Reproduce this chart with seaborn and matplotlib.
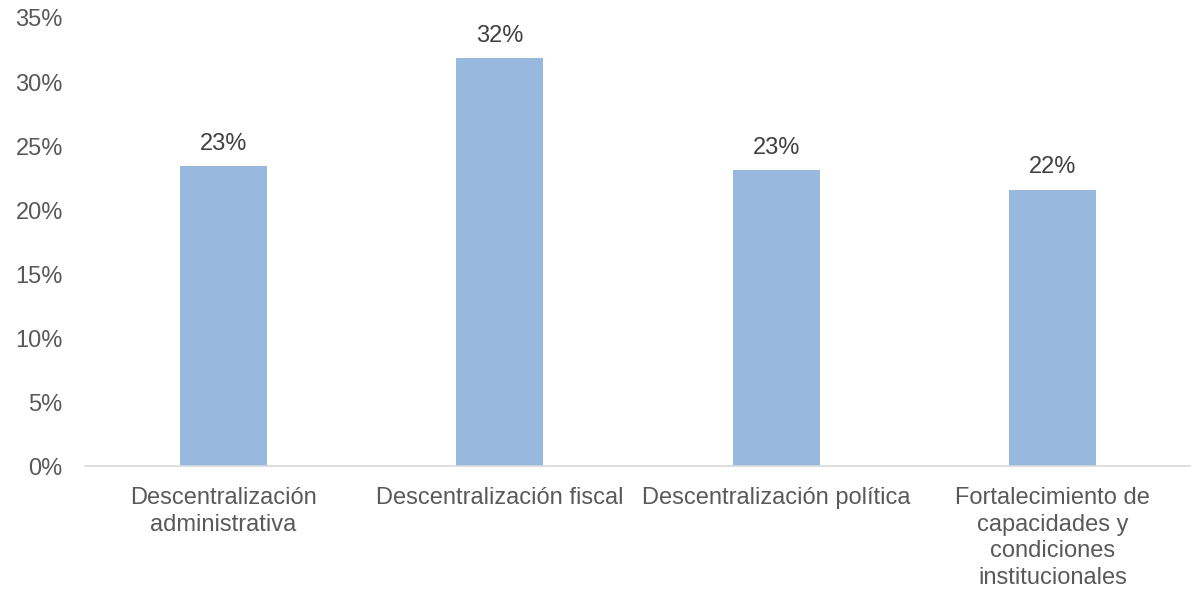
import matplotlib
matplotlib.use("Agg")
import matplotlib.pyplot as plt
import seaborn as sns
import pandas as pd
from matplotlib.ticker import FuncFormatter

categories = [
    "Descentralización\nadministrativa",
    "Descentralización fiscal",
    "Descentralización política",
    "Fortalecimiento de\ncapacidades y\ncondiciones\ninstitucionales",
]
values = [23.4, 31.85, 23.1, 21.55]
labels = ["23%", "32%", "23%", "22%"]
yticks = [0, 5, 10, 15, 20, 25, 30, 35]

sns.set_theme(style="white")
plt.rcParams["font.family"] = ["Liberation Sans", "DejaVu Sans"]

df = pd.DataFrame({"cat": categories, "val": values})

fig = plt.figure(figsize=(11.91, 5.92), dpi=100)
ax = fig.add_axes([0.0714, 0.2128, 0.9286, 0.7568])
sns.barplot(data=df, x="cat", y="val", color="#97B9DF", width=0.315,
            saturation=1, ax=ax, edgecolor="none")

ax.set_ylim(0, 35)
ax.set_xlim(-0.5, 3.5)
ax.set_yticks(yticks)
ax.yaxis.set_major_formatter(FuncFormatter(lambda v, p: f"{v:.0f}%"))
ax.set_xlabel("")
ax.set_ylabel("")
for s in ["top", "right", "left"]:
    ax.spines[s].set_visible(False)
ax.spines["bottom"].set_color("#D9D9D9")
ax.spines["bottom"].set_linewidth(1.2)
ax.tick_params(axis="y", length=0, labelsize=17, labelcolor="#595959", pad=16)
ax.tick_params(axis="x", length=0, labelsize=17, labelcolor="#595959", pad=15)
for t in ax.get_xticklabels():
    t.set_horizontalalignment("center")
    t.set_multialignment("center")
    t.set_linespacing(1.28)

for p, lab in zip(ax.patches, labels):
    ax.annotate(lab, (p.get_x() + p.get_width() / 2, p.get_height()),
                xytext=(0, 8.5), textcoords="offset points",
                ha="center", va="bottom", fontsize=17, color="#404040")

fig.savefig("out.png", dpi=100)
